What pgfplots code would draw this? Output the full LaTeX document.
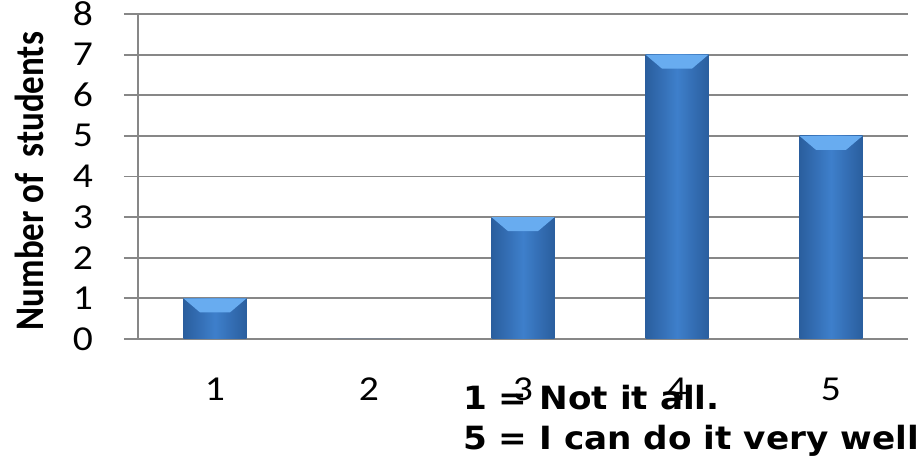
\documentclass[border=0pt]{standalone}
\usepackage{fontspec}
\setmainfont{Carlito}
\newfontfamily\verd{DejaVu Sans}
\usepackage{pgfplots}
\pgfplotsset{compat=1.18}

\definecolor{gridgray}{RGB}{135,135,135}
\definecolor{barmid}{RGB}{62,127,203}
\definecolor{baredge}{RGB}{42,94,158}
\definecolor{bevtop}{RGB}{104,172,240}

% light chevron that caps the top of each bar
\pgfdeclareplotmark{bevel}{%
  \pgfpathmoveto{\pgfqpoint{-31.5pt}{0pt}}%
  \pgfpathlineto{\pgfqpoint{31.5pt}{0pt}}%
  \pgfpathlineto{\pgfqpoint{15pt}{-14pt}}%
  \pgfpathlineto{\pgfqpoint{-15pt}{-14pt}}%
  \pgfpathclose
  \pgfusepathqfill}

\pgfplotsset{
  bluebar/.style={ybar, bar shift=0pt, bar width=63pt, draw=none,
    left color=baredge, right color=baredge, middle color=barmid},
}

\begin{document}
\begin{tikzpicture}
\path[use as bounding box] (0,0) rectangle (922pt,461pt);
\begin{axis}[
  at={(138pt,122pt)}, anchor=south west,
  scale only axis, width=770pt, height=325pt,
  xmin=0.5, xmax=5.5, ymin=0, ymax=8,
  xtick={1,...,5}, ytick={0,...,8},
  axis x line*=bottom, axis y line*=left,
  axis line style={gridgray, line width=1.8pt},
  ymajorgrids, grid style={gridgray, line width=1.8pt},
  tick align=outside, major tick length=14pt,
  y tick style={gridgray, line width=1.8pt},
  x tick style={draw=none},
  /pgf/number format/assume math mode=true,
  yticklabel={\scalebox{1.13}[1]{\pgfmathprintnumber{\tick}}},
  xticklabel={\scalebox{1.13}[1]{\pgfmathprintnumber{\tick}}},
  yticklabel style={font=\fontsize{35}{35}\selectfont, anchor=east, inner sep=0pt, xshift=-31pt},
  xticklabel style={font=\fontsize{35}{35}\selectfont, anchor=north, inner sep=0pt, yshift=-25pt},
  ylabel={\scalebox{1}[1.16]{\bfseries Number of\ \ students}},
  ylabel style={at={(axis description cs:-0.1416,0.486)}, anchor=center, font=\fontsize{35}{35}\selectfont},
]
% one bar per category, so that each bar gets its own shading
\addplot[bluebar] coordinates {(1,1)};
\addplot[ybar, bar shift=0pt, bar width=63pt, draw=none, fill=barmid] coordinates {(2,0)};
\addplot[bluebar] coordinates {(3,3)};
\addplot[bluebar] coordinates {(4,7)};
\addplot[bluebar] coordinates {(5,5)};
\addplot[only marks, mark=bevel, mark options={fill=bevtop, draw=none}]
  coordinates {(1,1) (3,3) (4,7) (5,5)};
\end{axis}
\node[anchor=base west, inner sep=0pt, font=\verd\bfseries\fontsize{32}{32}\selectfont] at (463pt,51pt) {\scalebox{1.07}[1]{1 = Not it all.}};
\node[anchor=base west, inner sep=0pt, font=\verd\bfseries\fontsize{32}{32}\selectfont] at (463pt,11pt) {\scalebox{1.07}[1]{5 = I can do it very well}};
\end{tikzpicture}
\end{document}
